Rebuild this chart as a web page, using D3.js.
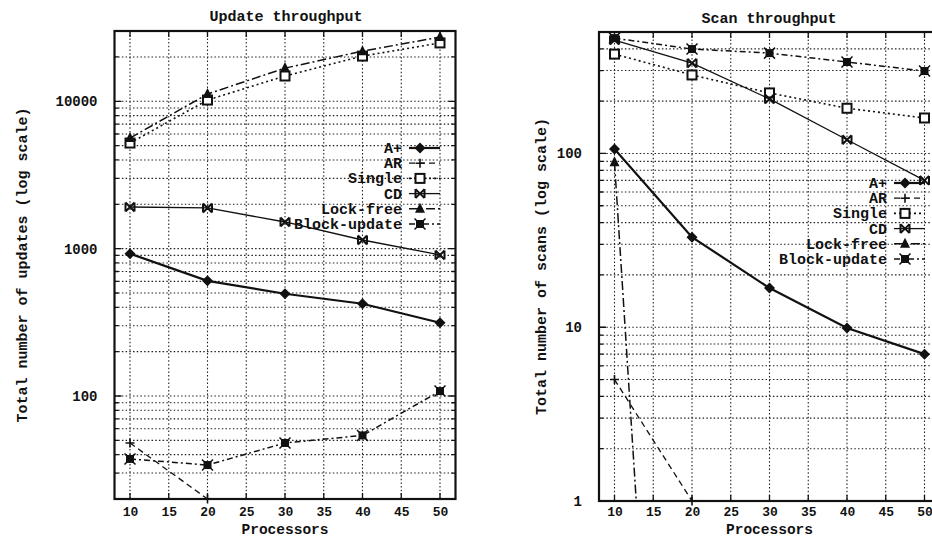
<!DOCTYPE html>
<html><head><meta charset="utf-8">
<script src="https://cdn.jsdelivr.net/npm/d3@7"></script>
<style>
body{margin:0;background:#fff;}
svg text{font-family:"Liberation Mono","Courier New",monospace;font-weight:bold;fill:#111;}
</style></head>
<body><svg id="c" width="932" height="539"></svg>
<script>
// ---- data ----
const processors = [10, 20, 30, 40, 50];
const seriesNames = ["A+", "AR", "Single", "CD", "Lock-free", "Block-update"];
const xTicks = [10, 15, 20, 25, 30, 35, 40, 45, 50];

// Update throughput (left)
const updAplus     = [925, 605, 494, 423, 314];
const updAR        = [48, 20, null, null, null];
const updSingle    = [5210, 10200, 14850, 20270, 24900];
const updCD        = [1918, 1890, 1517, 1145, 906];
const updLockFree  = [5630, 11200, 16800, 21900, 27300];
const updBlock     = [37.4, 34, 48, 54, 108];
const updYTicks    = [100, 1000, 10000];

// Scan throughput (right)
const scanAplus    = [106, 33, 16.8, 9.9, 7.0];
const scanAR       = [5, 1, null, null, null];
const scanSingle   = [373, 283, 223, 182, 160];
const scanCD       = [449, 331, 206, 120, 70];
const scanLockFree = [89, 0.00001, null, null, null];
const scanBlock    = [461, 399, 378, 336, 298];
const scanYTicks   = [1, 10, 100];

// ---- styles ----
const styles = {
  "A+":          {dash: null,          width: 2.2, marker: "diamond"},
  "AR":          {dash: "6,4",         width: 1.3, marker: "plus"},
  "Single":      {dash: "2,3",         width: 1.6, marker: "square"},
  "CD":          {dash: null,          width: 1.3, marker: "cross"},
  "Lock-free":   {dash: "9,3,2,3",     width: 1.5, marker: "triangle"},
  "Block-update":{dash: "6,3,2,3",     width: 1.5, marker: "fbox"}
};

const svg = d3.select("#c");

function drawMarker(g, type, x, y) {
  const s = 4.5;
  if (type === "diamond") {
    g.append("path").attr("d", `M${x},${y-s-1}L${x+s+1},${y}L${x},${y+s+1}L${x-s-1},${y}Z`).attr("fill", "#111");
  } else if (type === "plus") {
    g.append("path").attr("d", `M${x-s},${y}H${x+s}M${x},${y-s}V${y+s}`).attr("stroke", "#111").attr("stroke-width", 1.6).attr("fill", "none");
  } else if (type === "square") {
    g.append("rect").attr("x", x-s).attr("y", y-s).attr("width", 2*s).attr("height", 2*s)
      .attr("fill", "#fff").attr("stroke", "#111").attr("stroke-width", 2);
  } else if (type === "cross") {
    g.append("path").attr("d", `M${x-s},${y-s}L${x+s},${y+s}M${x-s},${y+s}L${x+s},${y-s}M${x-s},${y-s}V${y+s}M${x+s},${y-s}V${y+s}`)
      .attr("stroke", "#111").attr("stroke-width", 2).attr("fill", "none");
  } else if (type === "triangle") {
    g.append("path").attr("d", `M${x},${y-s-1.5}L${x+s+0.5},${y+s-0.5}L${x-s-0.5},${y+s-0.5}Z`).attr("fill", "#111");
  } else if (type === "fbox") {
    g.append("rect").attr("x", x-s+0.5).attr("y", y-s+0.5).attr("width", 2*s-1).attr("height", 2*s-1).attr("fill", "#111");
    g.append("path").attr("d", `M${x-s-1},${y-s-1}L${x+s+1},${y+s+1}M${x-s-1},${y+s+1}L${x+s+1},${y-s-1}`)
      .attr("stroke", "#111").attr("stroke-width", 1.5);
  }
}

function panel(cfg) {
  const {left, right, top, bottom, yDomain, yTicks, series, title, titleX, titleY, yLabel, yLabelX, legendX, legendY, id} = cfg;
  const x = d3.scaleLinear().domain([8, 52]).range([left, right]);
  const y = d3.scaleLog().domain(yDomain).range([bottom, top]);
  const g = svg.append("g");

  g.append("clipPath").attr("id", id).append("rect")
    .attr("x", left).attr("y", top).attr("width", right-left).attr("height", bottom-top);

  // grid: horizontal (every 1..9 x decade)
  const lo = Math.floor(Math.log10(yDomain[0])), hi = Math.ceil(Math.log10(yDomain[1]));
  const gridVals = [];
  for (let e = lo; e <= hi; e++) for (let m = 1; m <= 9; m++) {
    const v = m * Math.pow(10, e);
    if (v > yDomain[0] * 1.001 && v < yDomain[1] * 0.999) gridVals.push(v);
  }
  g.selectAll(null).data(gridVals).enter().append("line")
    .attr("x1", left).attr("x2", right).attr("y1", d => y(d)).attr("y2", d => y(d))
    .attr("stroke", "#222").attr("stroke-width", 1.1).attr("stroke-dasharray", "1.5,2.2");
  g.selectAll(null).data(xTicks).enter().append("line")
    .attr("x1", d => x(d)).attr("x2", d => x(d)).attr("y1", top).attr("y2", bottom)
    .attr("stroke", "#222").attr("stroke-width", 1.1).attr("stroke-dasharray", "1.5,2.2");

  // tick marks inward
  g.selectAll(null).data(gridVals).enter().append("path")
    .attr("d", d => {
      const major = Math.abs(Math.log10(d) - Math.round(Math.log10(d))) < 1e-9;
      const L = major ? 7 : 4;
      return `M${left},${y(d)}h${L}M${right},${y(d)}h${-L}`;
    }).attr("stroke", "#111").attr("stroke-width", 1.3);
  g.selectAll(null).data(xTicks).enter().append("path")
    .attr("d", d => `M${x(d)},${bottom}v-6M${x(d)},${top}v6`).attr("stroke", "#111").attr("stroke-width", 1.3);

  // axes labels via d3 axes (no domain lines)
  const yAxis = d3.axisLeft(y).tickValues(yTicks).tickFormat(d3.format("d")).tickSize(0).tickPadding(17);
  const ya = g.append("g").attr("transform", `translate(${left},0)`).call(yAxis);
  ya.select(".domain").remove();
  ya.selectAll("text").style("font-size", "14px").style("font-family", null);
  const xAxis = d3.axisBottom(x).tickValues(xTicks).tickSize(0).tickPadding(507 - bottom);
  const xa = g.append("g").attr("transform", `translate(0,${bottom})`).call(xAxis);
  xa.select(".domain").remove();
  xa.selectAll("text").style("font-size", "13px").style("font-family", null);

  // frame
  g.append("rect").attr("x", left).attr("y", top).attr("width", right-left).attr("height", bottom-top)
    .attr("fill", "none").attr("stroke", "#111").attr("stroke-width", 2.2);

  // series
  const lineGen = d3.line().defined(d => d.v != null).x(d => x(d.p)).y(d => y(d.v));
  const sg = g.append("g").attr("clip-path", `url(#${id})`);
  const mg = g.append("g");
  seriesNames.forEach((name, i) => {
    const st = styles[name];
    const pts = processors.map((p, j) => ({p, v: series[i][j]}));
    sg.append("path").datum(pts).attr("d", lineGen).attr("fill", "none")
      .attr("stroke", "#111").attr("stroke-width", st.width)
      .attr("stroke-dasharray", st.dash);
    pts.filter(d => d.v != null && d.v >= yDomain[0] * 0.97 && d.v <= yDomain[1] * 1.03)
      .forEach(d => drawMarker(mg, st.marker, x(d.p), y(d.v)));
  });

  // legend
  const lg = g.append("g");
  seriesNames.forEach((name, i) => {
    const st = styles[name];
    const ly = legendY + i * 15.2;
    lg.append("text").attr("x", legendX).attr("y", ly + 5).attr("text-anchor", "end")
      .style("font-size", "15px").text(name);
    lg.append("line").attr("x1", legendX + 7).attr("x2", legendX + 38).attr("y1", ly).attr("y2", ly)
      .attr("stroke", "#111").attr("stroke-width", st.width).attr("stroke-dasharray", st.dash);
    drawMarker(lg, st.marker, legendX + 18, ly);
  });

  // titles
  g.append("text").attr("x", titleX).attr("y", titleY).attr("text-anchor", "middle")
    .style("font-size", "15px").text(title);
  g.append("text").attr("x", (left + right) / 2).attr("y", 534).attr("text-anchor", "middle")
    .style("font-size", "14.5px").text("Processors");
  g.append("text").attr("transform", `translate(${yLabelX},${(top + bottom) / 2}) rotate(-90)`)
    .attr("text-anchor", "middle").style("font-size", "15px").text(yLabel);
}

panel({
  id: "clipL", left: 114.5, right: 455.5, top: 31, bottom: 499,
  yDomain: [20, 30000], yTicks: updYTicks,
  series: [updAplus, updAR, updSingle, updCD, updLockFree, updBlock],
  title: "Update throughput", titleX: 286, titleY: 21,
  yLabel: "Total number of updates (log scale)", yLabelX: 27,
  legendX: 402, legendY: 148
});
panel({
  id: "clipR", left: 599, right: 940, top: 32, bottom: 501,
  yDomain: [1, 500], yTicks: scanYTicks,
  series: [scanAplus, scanAR, scanSingle, scanCD, scanLockFree, scanBlock],
  title: "Scan throughput", titleX: 769, titleY: 23,
  yLabel: "Total number of scans (log scale)", yLabelX: 546,
  legendX: 887, legendY: 183
});
</script></body></html>
